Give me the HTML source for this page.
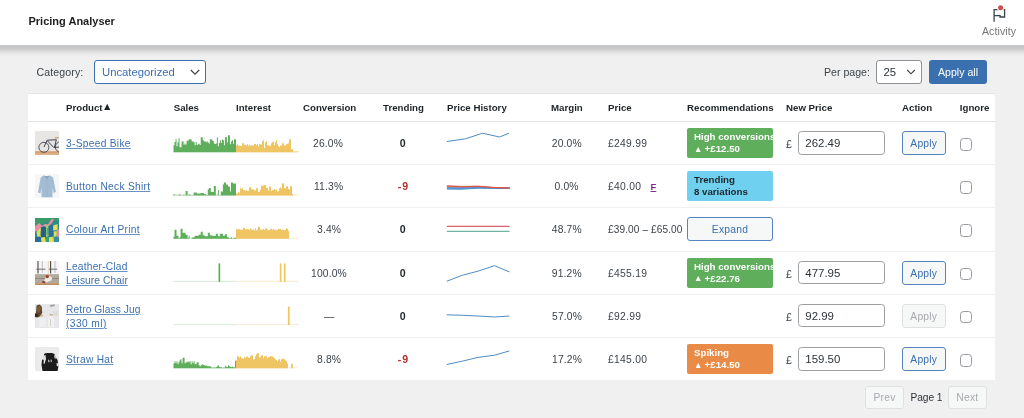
<!DOCTYPE html>
<html><head><meta charset="utf-8"><title>Pricing Analyser</title>
<style>
*{box-sizing:border-box;margin:0;padding:0}
html,body{width:1024px;height:418px;overflow:hidden;background:#f0f0f1}
body{position:relative;font-family:"Liberation Sans",Arial,sans-serif;font-size:10.5px;color:#3c434a;line-height:14px}
.a{position:absolute;white-space:nowrap}
.hdr{left:0;top:0;width:1024px;height:45px;background:#fff}
.shd{left:0;top:44.600px;width:1024px;height:12px;background:linear-gradient(to bottom,#e0e0e1 0,#c4c5c7 5%,#c5c6c8 20%,#d0d0d2 38%,#dededf 56%,#e8e8e9 72%,#eeeeef 88%,#f0f0f1 100%)}
.title{left:28.500px;top:14px;font-weight:bold;font-size:11px;color:#1e1e1e}
.act{left:982px;top:24px;font-size:10.500px;letter-spacing:.1px;color:#757575}
.tbl{left:28px;top:93px;width:967px;height:287.2px;background:#fff;border-top:1px solid #e4e4e8}
.sep{left:28px;width:967px;height:1px;background:#f0f0f1}
.th{top:100.500px;font-weight:bold;color:#1d2327;font-size:9.700px}
.lnk{color:#3a6fb0;text-decoration:underline;text-decoration-color:#6a92c5;text-decoration-thickness:.9px;text-underline-offset:.5px;font-size:10.2px;letter-spacing:.3px;line-height:13.8px}
.num{color:#3c434a;font-size:10.3px;letter-spacing:.15px}
.pr{letter-spacing:.3px}
.tr{font-weight:bold;color:#1d2327;font-size:10.6px}
.neg{color:#b32d2e}
.rec{left:687px;width:86.200px;height:30px;border-radius:2px;color:#fff;font-weight:bold;font-size:9.700px;line-height:12px;padding:3px 0 0 7px;overflow:hidden}
.g{background:#5fae5b}
.b{background:#6fd0ef;color:#1d2327}
.o{background:#e98b46}
.inp{left:798px;width:86.500px;height:23.300px;border:1px solid #9c9fa4;border-radius:3.500px;background:#fff;font-size:11.450px;line-height:22.300px;padding-left:6.300px;color:#2c3338}
.cur{left:786px;font-size:10.6px;color:#3c434a}
.btn{left:901.700px;width:44.200px;height:24px;border:1px solid #5584c0;border-radius:3px;background:#f6f7f7;color:#3a6fb0;font-size:10.300px;letter-spacing:.25px;line-height:23.400px;text-align:center}
.btn.dis{border-color:#e0e0e2;color:#a7aaad}
.pg{top:386.300px;height:23px;border:1px solid #e0e0e2;border-radius:3px;background:#f6f7f7;color:#a7aaad;font-size:10.300px;letter-spacing:.25px;line-height:22px;text-align:center}
.cb{left:959.800px;width:12.500px;height:12.500px;border:1px solid #96999e;border-radius:3.500px;background:#fff}
.thumb{left:34.500px;width:24px;height:24px;overflow:hidden}
.thumb svg{display:block;filter:blur(.35px)}
.tri{font-size:8.500px;line-height:0;vertical-align:0.5px;margin-right:-0.5px;margin-left:0}
.flag{left:650.500px;font-weight:bold;font-size:9.500px;color:#8a2b9a;text-decoration:underline}
</style></head><body>
<div class="a hdr"></div><div class="a shd"></div>
<div class="a title">Pricing Analyser</div>
<svg class="a" style="left:984px;top:0px" width="32" height="26" viewBox="984 0 32 26"><path d="M994.1 21.700V9.600h10.500v7.400h-4.600v-1.400h-5.900" fill="none" stroke="#3c434a" stroke-width="1.300"/><circle cx="1000.600" cy="7.800" r="3.500" fill="#fff"/><circle cx="1000.600" cy="7.800" r="2.500" fill="#d24d4d"/></svg>
<div class="a act">Activity</div>

<div class="a" style="left:36.500px;top:65px;font-size:10.600px;letter-spacing:.1px">Category:</div>
<div class="a" style="left:94px;top:60px;width:112px;height:24px;border:1.5px solid #3a6fb0;border-radius:3px;background:#fff;color:#3a6fb0;font-size:11.3px;line-height:23px;padding-left:7px">Uncategorized</div>
<svg class="a" style="left:189.600px;top:68.400px" width="10" height="8" viewBox="0 0 10 8"><path d="M0.800 2l4.200 4.200L9.200 2" fill="none" stroke="#3c434a" stroke-width="1.150"/></svg>
<div class="a" style="left:824px;top:65px;font-size:10.6px">Per page:</div>
<div class="a" style="left:876.400px;top:60px;width:45.600px;height:24px;border:1px solid #8c8f94;border-radius:3px;background:#fff;color:#2c3338;font-size:11.300px;line-height:22px;padding-left:6.200px">25</div>
<svg class="a" style="left:906.200px;top:68.400px" width="10" height="8" viewBox="0 0 10 8"><path d="M1.200 2l3.800 3.800L8.800 2" fill="none" stroke="#3c434a" stroke-width="1.150"/></svg>
<div class="a" style="left:929px;top:60px;width:58px;height:24px;border-radius:3px;background:#3a6fb0;color:#fff;font-size:10.6px;line-height:24px;text-align:center">Apply all</div>

<div class="a tbl"></div>

<div class="a th" style="left:66px">Product<span style="font-size:10.500px;line-height:0;margin-left:-.5px;vertical-align:.5px">▲</span></div>
<div class="a th" style="left:173.700px">Sales</div>
<div class="a th" style="left:236px">Interest</div>
<div class="a th" style="left:303px">Conversion</div>
<div class="a th" style="left:383px">Trending</div>
<div class="a th" style="left:447px">Price History</div>
<div class="a th" style="left:551px">Margin</div>
<div class="a th" style="left:608px">Price</div>
<div class="a th" style="left:687px">Recommendations</div>
<div class="a th" style="left:786px">New Price</div>
<div class="a th" style="left:902px">Action</div>
<div class="a th" style="left:959.800px">Ignore</div>

<svg class="a" style="left:0;top:0" width="1024" height="418" viewBox="0 0 1024 418">
<rect x="173.5" y="151.3" width="62.5" height="1" fill="#d8ecd7"/>
<rect x="236" y="151.3" width="62.8" height="1" fill="#fbecd0"/>
<path d="M173.50 152.3v-7.0h1.01v7.0zM174.51 152.3v-10.4h1.01v10.4zM175.52 152.3v-13.0h1.01v13.0zM176.52 152.3v-6.0h1.01v6.0zM177.53 152.3v-10.0h1.01v10.0zM178.54 152.3v-14.0h1.01v14.0zM179.55 152.3v-5.0h1.01v5.0zM180.56 152.3v-5.0h1.01v5.0zM181.56 152.3v-10.8h1.01v10.8zM182.57 152.3v-11.0h1.01v11.0zM183.58 152.3v-7.6h1.01v7.6zM184.59 152.3v-8.8h1.01v8.8zM185.60 152.3v-7.5h1.01v7.5zM186.60 152.3v-11.9h1.01v11.9zM187.61 152.3v-11.2h1.01v11.2zM188.62 152.3v-13.0h1.01v13.0zM189.63 152.3v-13.0h1.01v13.0zM190.64 152.3v-12.8h1.01v12.8zM191.65 152.3v-10.9h1.01v10.9zM192.65 152.3v-10.7h1.01v10.7zM193.66 152.3v-10.0h1.01v10.0zM194.67 152.3v-7.1h1.01v7.1zM195.68 152.3v-10.2h1.01v10.2zM196.69 152.3v-7.4h1.01v7.4zM197.69 152.3v-8.1h1.01v8.1zM198.70 152.3v-8.5h1.01v8.5zM199.71 152.3v-7.2h1.01v7.2zM200.72 152.3v-15.0h1.01v15.0zM201.73 152.3v-15.0h1.01v15.0zM202.73 152.3v-12.1h1.01v12.1zM203.74 152.3v-11.0h1.01v11.0zM204.75 152.3v-10.8h1.01v10.8zM205.76 152.3v-10.0h1.01v10.0zM206.77 152.3v-11.0h1.01v11.0zM207.77 152.3v-9.7h1.01v9.7zM208.78 152.3v-8.7h1.01v8.7zM209.79 152.3v-13.0h1.01v13.0zM210.80 152.3v-13.0h1.01v13.0zM211.81 152.3v-12.0h1.01v12.0zM212.81 152.3v-11.2h1.01v11.2zM213.82 152.3v-8.9h1.01v8.9zM214.83 152.3v-8.4h1.01v8.4zM215.84 152.3v-8.7h1.01v8.7zM216.85 152.3v-15.0h1.01v15.0zM217.85 152.3v-6.0h1.01v6.0zM218.86 152.3v-9.4h1.01v9.4zM219.87 152.3v-12.0h1.01v12.0zM220.88 152.3v-9.3h1.01v9.3zM221.89 152.3v-12.7h1.01v12.7zM222.90 152.3v-12.1h1.01v12.1zM223.90 152.3v-7.0h1.01v7.0zM224.91 152.3v-15.0h1.01v15.0zM225.92 152.3v-15.0h1.01v15.0zM226.93 152.3v-9.8h1.01v9.8zM227.94 152.3v-17.0h1.01v17.0zM228.94 152.3v-17.0h1.01v17.0zM229.95 152.3v-8.0h1.01v8.0zM230.96 152.3v-10.8h1.01v10.8zM231.97 152.3v-12.0h1.01v12.0zM232.98 152.3v-8.6h1.01v8.6zM233.98 152.3v-13.0h1.01v13.0zM234.99 152.3v-13.0h1.01v13.0z" fill="#5fae5b"/>
<path d="M236.00 152.3v-7.0h1.00v7.0zM237.00 152.3v-8.0h1.00v8.0zM238.00 152.3v-6.6h1.00v6.6zM239.00 152.3v-6.9h1.00v6.9zM240.00 152.3v-6.5h1.00v6.5zM241.00 152.3v-6.4h1.00v6.4zM242.00 152.3v-9.0h1.00v9.0zM243.00 152.3v-9.0h1.00v9.0zM244.00 152.3v-7.6h1.00v7.6zM245.00 152.3v-7.4h1.00v7.4zM246.00 152.3v-6.8h1.00v6.8zM247.00 152.3v-8.1h1.00v8.1zM248.00 152.3v-6.6h1.00v6.6zM249.00 152.3v-7.8h1.00v7.8zM250.00 152.3v-6.6h1.00v6.6zM251.00 152.3v-7.3h1.00v7.3zM252.00 152.3v-6.8h1.00v6.8zM253.00 152.3v-6.9h1.00v6.9zM254.00 152.3v-8.6h1.00v8.6zM255.00 152.3v-8.2h1.00v8.2zM256.00 152.3v-7.0h1.00v7.0zM257.00 152.3v-8.4h1.00v8.4zM258.00 152.3v-6.0h1.00v6.0zM259.00 152.3v-8.0h1.00v8.0zM260.00 152.3v-8.0h1.00v8.0zM261.00 152.3v-7.8h1.00v7.8zM262.00 152.3v-11.0h1.00v11.0zM263.00 152.3v-12.0h1.00v12.0zM264.00 152.3v-4.0h1.00v4.0zM265.00 152.3v-10.0h1.00v10.0zM266.00 152.3v-11.0h1.00v11.0zM267.00 152.3v-7.1h1.00v7.1zM268.00 152.3v-7.0h1.00v7.0zM269.00 152.3v-6.5h1.00v6.5zM270.00 152.3v-6.5h1.00v6.5zM271.00 152.3v-9.0h1.00v9.0zM272.00 152.3v-10.0h1.00v10.0zM273.00 152.3v-11.0h1.00v11.0zM274.00 152.3v-7.2h1.00v7.2zM275.00 152.3v-10.0h1.00v10.0zM276.00 152.3v-12.0h1.00v12.0zM277.00 152.3v-8.0h1.00v8.0zM278.00 152.3v-6.0h1.00v6.0zM279.00 152.3v-5.0h1.00v5.0zM280.00 152.3v-6.7h1.00v6.7zM281.00 152.3v-6.7h1.00v6.7zM282.00 152.3v-9.0h1.00v9.0zM283.00 152.3v-9.0h1.00v9.0zM284.00 152.3v-6.9h1.00v6.9zM285.00 152.3v-6.8h1.00v6.8zM286.00 152.3v-8.1h1.00v8.1zM287.00 152.3v-8.6h1.00v8.6zM288.00 152.3v-9.0h1.00v9.0zM289.00 152.3v-13.0h1.00v13.0zM290.00 152.3v-13.0h1.00v13.0zM291.00 152.3v-3.0h1.00v3.0zM292.00 152.3v-3.0h1.00v3.0z" fill="#efc463"/>
<rect x="293" y="151.3" width="5.8" height="1" fill="#f5d99a"/>
<rect x="173.5" y="194.5" width="62.5" height="1" fill="#d8ecd7"/>
<rect x="236" y="194.5" width="62.8" height="1" fill="#fbecd0"/>
<path d="M173.50 195.5v-1.5h1.01v1.5zM174.51 195.5v-0.3h1.01v0.3zM175.52 195.5v-0.3h1.01v0.3zM176.52 195.5v-0.3h1.01v0.3zM177.53 195.5v-0.3h1.01v0.3zM178.54 195.5v-1.0h1.01v1.0zM179.55 195.5v-1.0h1.01v1.0zM180.56 195.5v-0.3h1.01v0.3zM181.56 195.5v-0.3h1.01v0.3zM182.57 195.5v-0.3h1.01v0.3zM183.58 195.5v-1.0h1.01v1.0zM185.60 195.5v-4.5h1.01v4.5zM186.60 195.5v-4.5h1.01v4.5zM187.61 195.5v-0.3h1.01v0.3zM188.62 195.5v-1.0h1.01v1.0zM189.63 195.5v-1.0h1.01v1.0zM190.64 195.5v-0.3h1.01v0.3zM191.65 195.5v-0.3h1.01v0.3zM192.65 195.5v-0.3h1.01v0.3zM193.66 195.5v-3.0h1.01v3.0zM194.67 195.5v-3.0h1.01v3.0zM195.68 195.5v-3.0h1.01v3.0zM196.69 195.5v-2.0h1.01v2.0zM197.69 195.5v-2.0h1.01v2.0zM198.70 195.5v-2.0h1.01v2.0zM199.71 195.5v-2.0h1.01v2.0zM200.72 195.5v-2.6h1.01v2.6zM201.73 195.5v-2.6h1.01v2.6zM202.73 195.5v-2.6h1.01v2.6zM203.74 195.5v-1.5h1.01v1.5zM204.75 195.5v-1.5h1.01v1.5zM205.76 195.5v-0.5h1.01v0.5zM206.77 195.5v-0.5h1.01v0.5zM207.77 195.5v-6.0h1.01v6.0zM208.78 195.5v-7.5h1.01v7.5zM209.79 195.5v-7.5h1.01v7.5zM210.80 195.5v-3.5h1.01v3.5zM211.81 195.5v-3.5h1.01v3.5zM212.81 195.5v-3.5h1.01v3.5zM213.82 195.5v-9.5h1.01v9.5zM214.83 195.5v-9.5h1.01v9.5zM215.84 195.5v-0.3h1.01v0.3zM216.85 195.5v-0.3h1.01v0.3zM217.85 195.5v-5.5h1.01v5.5zM218.86 195.5v-0.3h1.01v0.3zM219.87 195.5v-0.3h1.01v0.3zM220.88 195.5v-4.0h1.01v4.0zM221.89 195.5v-4.0h1.01v4.0zM222.90 195.5v-11.0h1.01v11.0zM223.90 195.5v-13.0h1.01v13.0zM224.91 195.5v-13.0h1.01v13.0zM225.92 195.5v-11.0h1.01v11.0zM226.93 195.5v-11.0h1.01v11.0zM227.94 195.5v-9.0h1.01v9.0zM228.94 195.5v-9.0h1.01v9.0zM229.95 195.5v-4.0h1.01v4.0zM230.96 195.5v-13.0h1.01v13.0zM231.97 195.5v-13.0h1.01v13.0zM232.98 195.5v-12.0h1.01v12.0zM233.98 195.5v-12.0h1.01v12.0zM234.99 195.5v-12.0h1.01v12.0z" fill="#5fae5b"/>
<path d="M236.00 195.5v-2.1h1.00v2.1zM237.00 195.5v-2.0h1.00v2.0zM238.00 195.5v-3.5h1.00v3.5zM239.00 195.5v-2.7h1.00v2.7zM240.00 195.5v-7.2h1.00v7.2zM241.00 195.5v-6.8h1.00v6.8zM242.00 195.5v-7.3h1.00v7.3zM243.00 195.5v-5.6h1.00v5.6zM244.00 195.5v-5.3h1.00v5.3zM245.00 195.5v-4.7h1.00v4.7zM246.00 195.5v-5.2h1.00v5.2zM247.00 195.5v-4.6h1.00v4.6zM248.00 195.5v-4.7h1.00v4.7zM249.00 195.5v-8.1h1.00v8.1zM250.00 195.5v-8.4h1.00v8.4zM251.00 195.5v-6.6h1.00v6.6zM252.00 195.5v-6.3h1.00v6.3zM253.00 195.5v-5.9h1.00v5.9zM254.00 195.5v-5.2h1.00v5.2zM255.00 195.5v-5.0h1.00v5.0zM256.00 195.5v-7.3h1.00v7.3zM257.00 195.5v-7.4h1.00v7.4zM258.00 195.5v-3.6h1.00v3.6zM259.00 195.5v-3.7h1.00v3.7zM260.00 195.5v-5.9h1.00v5.9zM261.00 195.5v-10.1h1.00v10.1zM262.00 195.5v-9.6h1.00v9.6zM263.00 195.5v-9.9h1.00v9.9zM264.00 195.5v-10.4h1.00v10.4zM265.00 195.5v-10.5h1.00v10.5zM266.00 195.5v-7.7h1.00v7.7zM267.00 195.5v-7.7h1.00v7.7zM268.00 195.5v-5.1h1.00v5.1zM269.00 195.5v-9.1h1.00v9.1zM270.00 195.5v-9.0h1.00v9.0zM271.00 195.5v-4.5h1.00v4.5zM272.00 195.5v-5.4h1.00v5.4zM273.00 195.5v-5.2h1.00v5.2zM274.00 195.5v-6.5h1.00v6.5zM275.00 195.5v-5.5h1.00v5.5zM276.00 195.5v-6.1h1.00v6.1zM277.00 195.5v-4.0h1.00v4.0zM278.00 195.5v-4.2h1.00v4.2zM279.00 195.5v-7.3h1.00v7.3zM280.00 195.5v-8.0h1.00v8.0zM281.00 195.5v-7.1h1.00v7.1zM282.00 195.5v-12.0h1.00v12.0zM283.00 195.5v-12.2h1.00v12.2zM284.00 195.5v-7.4h1.00v7.4zM285.00 195.5v-7.2h1.00v7.2zM286.00 195.5v-9.2h1.00v9.2zM287.00 195.5v-9.3h1.00v9.3zM288.00 195.5v-6.4h1.00v6.4zM289.00 195.5v-5.9h1.00v5.9zM290.00 195.5v-9.2h1.00v9.2zM291.00 195.5v-9.4h1.00v9.4zM292.00 195.5v-1.4h1.00v1.4z" fill="#efc463"/>
<rect x="173.5" y="237.7" width="62.5" height="1" fill="#d8ecd7"/>
<rect x="236" y="237.7" width="62.8" height="1" fill="#fbecd0"/>
<path d="M173.50 238.7v-2.0h1.01v2.0zM174.51 238.7v-9.0h1.01v9.0zM175.52 238.7v-9.0h1.01v9.0zM176.52 238.7v-3.0h1.01v3.0zM177.53 238.7v-3.0h1.01v3.0zM178.54 238.7v-0.5h1.01v0.5zM179.55 238.7v-1.5h1.01v1.5zM180.56 238.7v-10.0h1.01v10.0zM181.56 238.7v-10.0h1.01v10.0zM182.57 238.7v-6.0h1.01v6.0zM183.58 238.7v-6.0h1.01v6.0zM184.59 238.7v-6.0h1.01v6.0zM185.60 238.7v-4.0h1.01v4.0zM186.60 238.7v-4.0h1.01v4.0zM187.61 238.7v-0.5h1.01v0.5zM188.62 238.7v-3.0h1.01v3.0zM191.65 238.7v-1.0h1.01v1.0zM192.65 238.7v-1.5h1.01v1.5zM193.66 238.7v-1.5h1.01v1.5zM194.67 238.7v-3.0h1.01v3.0zM195.68 238.7v-3.0h1.01v3.0zM196.69 238.7v-3.0h1.01v3.0zM197.69 238.7v-3.0h1.01v3.0zM198.70 238.7v-4.0h1.01v4.0zM199.71 238.7v-4.0h1.01v4.0zM200.72 238.7v-7.0h1.01v7.0zM201.73 238.7v-7.0h1.01v7.0zM202.73 238.7v-3.5h1.01v3.5zM203.74 238.7v-3.5h1.01v3.5zM204.75 238.7v-2.5h1.01v2.5zM205.76 238.7v-2.5h1.01v2.5zM206.77 238.7v-2.5h1.01v2.5zM207.77 238.7v-6.0h1.01v6.0zM208.78 238.7v-6.0h1.01v6.0zM209.79 238.7v-3.5h1.01v3.5zM210.80 238.7v-3.5h1.01v3.5zM211.81 238.7v-3.0h1.01v3.0zM212.81 238.7v-3.0h1.01v3.0zM213.82 238.7v-3.0h1.01v3.0zM214.83 238.7v-3.0h1.01v3.0zM215.84 238.7v-5.0h1.01v5.0zM216.85 238.7v-5.0h1.01v5.0zM217.85 238.7v-2.5h1.01v2.5zM218.86 238.7v-2.5h1.01v2.5zM219.87 238.7v-5.0h1.01v5.0zM220.88 238.7v-5.0h1.01v5.0zM221.89 238.7v-5.0h1.01v5.0zM222.90 238.7v-3.0h1.01v3.0zM223.90 238.7v-3.0h1.01v3.0zM224.91 238.7v-4.5h1.01v4.5zM225.92 238.7v-4.5h1.01v4.5zM226.93 238.7v-1.5h1.01v1.5zM227.94 238.7v-1.5h1.01v1.5zM228.94 238.7v-0.5h1.01v0.5zM229.95 238.7v-0.5h1.01v0.5zM230.96 238.7v-1.5h1.01v1.5zM231.97 238.7v-0.3h1.01v0.3zM232.98 238.7v-0.3h1.01v0.3zM233.98 238.7v-1.0h1.01v1.0zM234.99 238.7v-1.0h1.01v1.0z" fill="#5fae5b"/>
<path d="M236.00 238.7v-9.5h1.00v9.5zM237.00 238.7v-9.5h1.00v9.5zM238.00 238.7v-9.6h1.00v9.6zM239.00 238.7v-9.1h1.00v9.1zM240.00 238.7v-9.2h1.00v9.2zM241.00 238.7v-8.8h1.00v8.8zM242.00 238.7v-9.1h1.00v9.1zM243.00 238.7v-11.0h1.00v11.0zM244.00 238.7v-11.0h1.00v11.0zM245.00 238.7v-9.2h1.00v9.2zM246.00 238.7v-9.8h1.00v9.8zM247.00 238.7v-9.6h1.00v9.6zM248.00 238.7v-9.4h1.00v9.4zM249.00 238.7v-8.8h1.00v8.8zM250.00 238.7v-10.5h1.00v10.5zM251.00 238.7v-9.1h1.00v9.1zM252.00 238.7v-8.9h1.00v8.9zM253.00 238.7v-9.5h1.00v9.5zM254.00 238.7v-8.3h1.00v8.3zM255.00 238.7v-10.5h1.00v10.5zM256.00 238.7v-8.2h1.00v8.2zM257.00 238.7v-9.2h1.00v9.2zM258.00 238.7v-12.0h1.00v12.0zM259.00 238.7v-12.0h1.00v12.0zM260.00 238.7v-9.3h1.00v9.3zM261.00 238.7v-9.0h1.00v9.0zM262.00 238.7v-9.2h1.00v9.2zM263.00 238.7v-9.7h1.00v9.7zM264.00 238.7v-8.6h1.00v8.6zM265.00 238.7v-10.5h1.00v10.5zM266.00 238.7v-10.5h1.00v10.5zM267.00 238.7v-9.3h1.00v9.3zM268.00 238.7v-8.5h1.00v8.5zM269.00 238.7v-8.5h1.00v8.5zM270.00 238.7v-9.6h1.00v9.6zM271.00 238.7v-10.0h1.00v10.0zM272.00 238.7v-8.9h1.00v8.9zM273.00 238.7v-9.6h1.00v9.6zM274.00 238.7v-8.7h1.00v8.7zM275.00 238.7v-9.3h1.00v9.3zM276.00 238.7v-8.5h1.00v8.5zM277.00 238.7v-8.9h1.00v8.9zM278.00 238.7v-10.0h1.00v10.0zM279.00 238.7v-9.7h1.00v9.7zM280.00 238.7v-9.6h1.00v9.6zM281.00 238.7v-8.8h1.00v8.8zM282.00 238.7v-9.1h1.00v9.1zM283.00 238.7v-8.7h1.00v8.7zM284.00 238.7v-8.4h1.00v8.4zM285.00 238.7v-9.0h1.00v9.0zM286.00 238.7v-10.5h1.00v10.5zM287.00 238.7v-10.0h1.00v10.0zM288.00 238.7v-8.0h1.00v8.0z" fill="#efc463"/>
<rect x="173.5" y="280.9" width="62.5" height="1" fill="#d8ecd7"/>
<rect x="236" y="280.9" width="62.8" height="1" fill="#fbecd0"/>
<rect x="218.5" y="263.4" width="1.7" height="18.5" fill="#5fae5b"/>
<rect x="279.8" y="263.4" width="1.6" height="18.5" fill="#efc463"/>
<rect x="283.9" y="263.4" width="1.6" height="18.5" fill="#efc463"/>
<rect x="173.5" y="324.1" width="62.5" height="1" fill="#d8ecd7"/>
<rect x="236" y="324.1" width="62.8" height="1" fill="#fbecd0"/>
<rect x="287.9" y="306.6" width="1.7" height="18.5" fill="#efc463"/>
<rect x="173.5" y="367.3" width="62.5" height="1" fill="#d8ecd7"/>
<rect x="236" y="367.3" width="62.8" height="1" fill="#fbecd0"/>
<path d="M173.50 368.3v-5.0h1.01v5.0zM174.51 368.3v-7.0h1.01v7.0zM175.52 368.3v-5.0h1.01v5.0zM176.52 368.3v-7.0h1.01v7.0zM177.53 368.3v-4.0h1.01v4.0zM178.54 368.3v-6.0h1.01v6.0zM179.55 368.3v-8.0h1.01v8.0zM180.56 368.3v-9.0h1.01v9.0zM181.56 368.3v-5.0h1.01v5.0zM182.57 368.3v-10.5h1.01v10.5zM183.58 368.3v-10.5h1.01v10.5zM184.59 368.3v-5.0h1.01v5.0zM185.60 368.3v-6.0h1.01v6.0zM186.60 368.3v-6.0h1.01v6.0zM187.61 368.3v-7.0h1.01v7.0zM188.62 368.3v-6.0h1.01v6.0zM189.63 368.3v-7.0h1.01v7.0zM190.64 368.3v-4.0h1.01v4.0zM191.65 368.3v-7.0h1.01v7.0zM192.65 368.3v-5.0h1.01v5.0zM193.66 368.3v-7.0h1.01v7.0zM194.67 368.3v-4.0h1.01v4.0zM195.68 368.3v-4.0h1.01v4.0zM196.69 368.3v-6.0h1.01v6.0zM197.69 368.3v-6.0h1.01v6.0zM198.70 368.3v-3.0h1.01v3.0zM199.71 368.3v-2.0h1.01v2.0zM200.72 368.3v-3.0h1.01v3.0zM201.73 368.3v-4.0h1.01v4.0zM202.73 368.3v-3.5h1.01v3.5zM203.74 368.3v-3.0h1.01v3.0zM204.75 368.3v-2.5h1.01v2.5zM205.76 368.3v-3.0h1.01v3.0zM206.77 368.3v-2.0h1.01v2.0zM207.77 368.3v-2.0h1.01v2.0zM208.78 368.3v-2.0h1.01v2.0zM209.79 368.3v-2.0h1.01v2.0zM210.80 368.3v-1.0h1.01v1.0zM211.81 368.3v-0.5h1.01v0.5zM212.81 368.3v-0.5h1.01v0.5zM213.82 368.3v-1.0h1.01v1.0zM214.83 368.3v-0.5h1.01v0.5zM215.84 368.3v-1.0h1.01v1.0zM216.85 368.3v-2.0h1.01v2.0zM217.85 368.3v-3.0h1.01v3.0zM218.86 368.3v-1.5h1.01v1.5zM219.87 368.3v-1.0h1.01v1.0zM220.88 368.3v-1.0h1.01v1.0zM221.89 368.3v-0.5h1.01v0.5zM222.90 368.3v-0.5h1.01v0.5zM223.90 368.3v-0.5h1.01v0.5zM224.91 368.3v-2.5h1.01v2.5zM225.92 368.3v-1.5h1.01v1.5zM226.93 368.3v-1.0h1.01v1.0zM227.94 368.3v-3.0h1.01v3.0zM228.94 368.3v-2.0h1.01v2.0zM229.95 368.3v-1.5h1.01v1.5zM230.96 368.3v-1.0h1.01v1.0zM231.97 368.3v-1.5h1.01v1.5zM232.98 368.3v-1.0h1.01v1.0zM233.98 368.3v-0.7h1.01v0.7zM234.99 368.3v-7.5h1.01v7.5z" fill="#5fae5b"/>
<path d="M236.00 368.3v-8.0h1.00v8.0zM237.00 368.3v-12.0h1.00v12.0zM238.00 368.3v-12.0h1.00v12.0zM239.00 368.3v-10.9h1.00v10.9zM240.00 368.3v-12.0h1.00v12.0zM241.00 368.3v-10.0h1.00v10.0zM242.00 368.3v-10.0h1.00v10.0zM243.00 368.3v-9.5h1.00v9.5zM244.00 368.3v-11.0h1.00v11.0zM245.00 368.3v-10.7h1.00v10.7zM246.00 368.3v-11.5h1.00v11.5zM247.00 368.3v-11.7h1.00v11.7zM248.00 368.3v-10.9h1.00v10.9zM249.00 368.3v-10.4h1.00v10.4zM250.00 368.3v-12.0h1.00v12.0zM251.00 368.3v-13.0h1.00v13.0zM252.00 368.3v-13.0h1.00v13.0zM253.00 368.3v-9.0h1.00v9.0zM254.00 368.3v-9.0h1.00v9.0zM255.00 368.3v-12.0h1.00v12.0zM256.00 368.3v-14.0h1.00v14.0zM257.00 368.3v-15.0h1.00v15.0zM258.00 368.3v-15.0h1.00v15.0zM259.00 368.3v-11.0h1.00v11.0zM260.00 368.3v-11.0h1.00v11.0zM261.00 368.3v-13.0h1.00v13.0zM262.00 368.3v-13.0h1.00v13.0zM263.00 368.3v-10.0h1.00v10.0zM264.00 368.3v-12.0h1.00v12.0zM265.00 368.3v-12.0h1.00v12.0zM266.00 368.3v-12.0h1.00v12.0zM267.00 368.3v-10.0h1.00v10.0zM268.00 368.3v-11.0h1.00v11.0zM269.00 368.3v-11.5h1.00v11.5zM270.00 368.3v-12.0h1.00v12.0zM271.00 368.3v-12.0h1.00v12.0zM272.00 368.3v-12.0h1.00v12.0zM273.00 368.3v-11.0h1.00v11.0zM274.00 368.3v-10.0h1.00v10.0zM275.00 368.3v-9.0h1.00v9.0zM276.00 368.3v-8.0h1.00v8.0zM277.00 368.3v-7.0h1.00v7.0zM278.00 368.3v-9.0h1.00v9.0zM279.00 368.3v-9.0h1.00v9.0zM280.00 368.3v-6.5h1.00v6.5zM281.00 368.3v-9.0h1.00v9.0zM282.00 368.3v-9.5h1.00v9.5zM283.00 368.3v-9.5h1.00v9.5zM284.00 368.3v-9.0h1.00v9.0zM285.00 368.3v-8.0h1.00v8.0zM286.00 368.3v-7.0h1.00v7.0zM287.00 368.3v-5.0h1.00v5.0z" fill="#efc463"/>
<path d="M291.00 368.3v-4.5h0.90v4.5zM291.90 368.3v-4.5h0.90v4.5z" fill="#efc463"/>
<polyline points="446.8,141.5 465.5,138.8 482.5,133.2 499.5,137.0 509.0,133.2" fill="none" stroke="#4f8cc5" stroke-width="1.0" stroke-linejoin="round"/>
<polyline points="446.9,189.1 462.0,189.2 478.0,188.2 494.0,188.4 509.6,188.0" fill="none" stroke="#3f8fd0" stroke-width="1.0" stroke-linejoin="round"/>
<polyline points="446.9,188.4 462.0,188.6 478.0,187.7 494.0,188.2 509.6,188.0" fill="none" stroke="#4a9ad8" stroke-width="1.0" stroke-linejoin="round"/>
<polyline points="446.9,187.7 462.0,188.0 478.0,187.2 494.0,188.0 509.6,188.0" fill="none" stroke="#5b8fc9" stroke-width="1.0" stroke-linejoin="round"/>
<polyline points="446.9,187.0 462.0,187.4 478.0,186.8 494.0,187.8 509.6,188.0" fill="none" stroke="#7a7fb5" stroke-width="0.9" stroke-linejoin="round"/>
<polyline points="446.9,186.2 462.0,186.8 478.0,186.4 494.0,187.6 509.6,188.0" fill="none" stroke="#d9573f" stroke-width="1.0" stroke-linejoin="round"/>
<polyline points="446.9,185.7 462.0,186.4 478.0,186.1 494.0,187.4 509.6,188.0" fill="none" stroke="#e0523a" stroke-width="0.8" stroke-linejoin="round"/>
<polyline points="446.9,226.4 509.6,226.4" fill="none" stroke="#d9616f" stroke-width="1.1" stroke-linejoin="round"/>
<polyline points="446.9,231.4 509.6,231.4" fill="none" stroke="#6fb5a6" stroke-width="1.1" stroke-linejoin="round"/>
<polyline points="446.8,281.2 462.2,275.3 478.6,271.0 494.6,265.7 509.4,271.9" fill="none" stroke="#4f8cc5" stroke-width="1.0" stroke-linejoin="round"/>
<polyline points="446.8,314.8 462.5,315.3 478.0,316.0 494.6,317.0 509.4,316.0" fill="none" stroke="#4f8cc5" stroke-width="1.0" stroke-linejoin="round"/>
<polyline points="446.8,364.5 462.5,361.1 478.0,357.4 494.6,355.2 509.4,350.9" fill="none" stroke="#4f8cc5" stroke-width="1.0" stroke-linejoin="round"/>
</svg>
<div class="a sep" style="top:120.9px;background:#e2e2e4"></div>
<div class="a thumb" style="top:131.2px"><svg viewBox="0 0 24 24" width="24" height="24"><rect width="24" height="24" fill="#e8e6e5"/><rect y="20.200" width="24" height="3.800" fill="#d6a273"/><rect y="22.500" width="24" height="1.500" fill="#dfb48c"/><g fill="none" stroke="#3d424c" stroke-width="0.9"><circle cx="8.900" cy="16.300" r="5"/><circle cx="25.5" cy="16" r="5.2"/><path d="M12.2 9.2L21 8.8M12.2 9.6l6.6 6.9M21.4 8.5l-2 8M12.2 9.2L9 16M18.8 16.5L25 16" stroke-width="1"/></g><path d="M19.8 6.3h4v1h-4z" fill="#b98a5e"/><path d="M10.6 7.4h3v1h-3z" fill="#d8d8da"/></svg></div>
<div class="a lnk" style="left:66px;top:137.0px">3-Speed Bike</div>
<div class="a num" style="left:313px;top:137.0px">26.0%</div>
<div class="a tr" style="left:399.8px;top:136.0px">0</div>
<div class="a num" style="left:551.8px;top:137.0px">20.0%</div>
<div class="a num pr" style="left:608px;top:137.0px">£249.99</div>
<div class="a rec g" style="top:128.2px">High conversions<br><span class="tri">▲</span> +£12.50</div>
<div class="a cur" style="top:137.0px">£</div>
<div class="a inp" style="top:131.3px">262.49</div>
<div class="a btn" style="top:131.0px">Apply</div>
<div class="a cb" style="top:138.0px"></div>
<div class="a sep" style="top:164.1px"></div>
<div class="a thumb" style="top:174.4px"><svg viewBox="0 0 24 24" width="24" height="24"><rect width="24" height="24" fill="#f6f6f7"/><path d="M8.6 1.6L5.7 3.4 3 18.6l2.5 1 .9-6 .2 9.6h10.8l.2-9.6.9 5.4 2.4-.9L18.1 3.4l-3-1.8-3.200 1.300z" fill="#a3bbd3"/><path d="M8.600 1.600l3.300 2.800 3.200-2.800-3.200.7z" fill="#869fbc"/><path d="M11.900 4v19" stroke="#93b2cd" stroke-width=".5"/></svg></div>
<div class="a lnk" style="left:66px;top:180.2px">Button Neck Shirt</div>
<div class="a num" style="left:314px;top:180.2px">11.3%</div>
<div class="a tr neg" style="left:397.8px;top:179.2px;letter-spacing:1px">-9</div>
<div class="a num" style="left:554.5px;top:180.2px">0.0%</div>
<div class="a num pr" style="left:608px;top:180.2px">£40.00</div>
<div class="a flag" style="top:180.2px">F</div>
<div class="a rec b" style="top:171.4px">Trending<br>8 variations</div>
<div class="a cb" style="top:181.2px"></div>
<div class="a sep" style="top:207.3px"></div>
<div class="a thumb" style="top:217.6px"><svg viewBox="0 0 24 24" width="24" height="24"><rect width="24" height="24" fill="#2e8c86"/><path d="M0 0h24v3l-6-2-4 4-4-1-4 3-6 2z" fill="#3a9a6c"/><path d="M0 8.500l4.200-3.500 3.100 3 3-2.500 2.200 1.500L17 .8l2 .7-2.500 4-2.500 2.500-2.500 1-2.800-.8-3 1L3 13l-3 .5z" fill="#ee8ca6"/><path d="M1.500 14l4-4.500 1.500 3-.5 6-4 1.500z" fill="#dcdf5c"/><path d="M6 9.500l3-1 2 1v11l-4 .5-1.500-4z" fill="#245f94"/><path d="M11 7.500l2.500-1.500.5 12-3 1z" fill="#9fcf5e"/><path d="M11.800 10h1.500v7h-1.500z" fill="#4fb06b"/><path d="M13.500 8l4.500-1.500v12l-4.500.5z" fill="#2a6ea3"/><path d="M18.200 7.500l4.400-1.500v6l-4.400.5z" fill="#dfe05e"/><path d="M18.800 13.500l3-.5v5.500l-3 .5z" fill="#d9dd60"/><path d="M0 19l5.500-.5.500 5.500H0z" fill="#2a6a9c"/><path d="M6 19.500l4-.5 1 5H6.500z" fill="#e3e15c"/><path d="M10.500 19.500l3.500-.5v5h-3z" fill="#3d9f78"/><path d="M14 19.200l4.400-.4.600 5.200h-5z" fill="#dfe05e"/><path d="M19 19l5-1v6h-4.500z" fill="#3a8f9a"/><path d="M22 12l2-.5v7l-2 .5z" fill="#ea8aa8"/></svg></div>
<div class="a lnk" style="left:66px;top:223.4px">Colour Art Print</div>
<div class="a num" style="left:317px;top:223.4px">3.4%</div>
<div class="a tr" style="left:399.8px;top:222.4px">0</div>
<div class="a num" style="left:551.8px;top:223.4px">48.7%</div>
<div class="a num" style="left:608px;top:223.4px;font-size:10.1px;letter-spacing:.1px">£39.00 – £65.00</div>
<div class="a btn" style="left:687px;width:86px;top:217.4px">Expand</div>
<div class="a cb" style="top:224.4px"></div>
<div class="a sep" style="top:250.5px"></div>
<div class="a thumb" style="top:260.8px"><svg viewBox="0 0 24 24" width="24" height="24"><rect width="24" height="24" fill="#f7f5f3"/><g stroke="#4a4a50" fill="none"><path d="M3 0v12.500M15.600 0v12.500" stroke-width="1.100"/><path d="M1.500 8.200h9M14 8.200h8" stroke-width=".8"/><path d="M7.300 0v12M20 0v12" stroke-width=".5" stroke="#8a8a90"/></g><path d="M12.800 0h1.200v13h-1.200z" fill="#ecd9c4"/><rect y="13" width="24" height="9.500" fill="#b0a89c"/><rect y="13" width="24" height="1.200" fill="#bdb6aa"/><rect y="17" width="24" height="1" fill="#8f887c"/><rect y="22.300" width="24" height="1.700" fill="#bd8a58"/><path d="M10.800 16l3.500-1 3 1.500-1 3-5 2-2.500-1z" fill="#eceae8"/><circle cx="12.300" cy="15.600" r="1.700" fill="#a23f1f"/><path d="M7.500 20l3 .5-.5 1.800-3-.5z" fill="#8d3a22"/></svg></div>
<div class="a lnk" style="left:66px;top:259.6px;line-height:14.2px"><span style="letter-spacing:0.23px">Leather-Clad</span><br><span style="letter-spacing:0.1px">Leisure Chair</span></div>
<div class="a num" style="left:311px;top:266.6px">100.0%</div>
<div class="a tr" style="left:399.8px;top:265.6px">0</div>
<div class="a num" style="left:551.8px;top:266.6px">91.2%</div>
<div class="a num pr" style="left:608px;top:266.6px">£455.19</div>
<div class="a rec g" style="top:257.8px">High conversions<br><span class="tri">▲</span> +£22.76</div>
<div class="a cur" style="top:266.6px">£</div>
<div class="a inp" style="top:260.9px">477.95</div>
<div class="a btn" style="top:260.6px">Apply</div>
<div class="a cb" style="top:267.6px"></div>
<div class="a sep" style="top:293.7px"></div>
<div class="a thumb" style="top:304.0px"><svg viewBox="0 0 24 24" width="24" height="24"><rect width="24" height="24" fill="#e7e7ea"/><path d="M1.500 1.500l3-1 2.200 2 .5 6-1.500 3.500-3 1.500-1.700-3z" fill="#5b4430"/><path d="M2.500 2l2.500 0 1 4-2 3-2-2z" fill="#7e5a33"/><path d="M0 9l3 1.500-.5 3-2.500-.5z" fill="#2f2a28"/><path d="M5 11l2.500-.5 .5 1.500-2.500 .8z" fill="#d7a968"/><path d="M15 1l5-.5-.5 1.500-4 1z" fill="#9a9a9c"/><rect x="18" y="7" width="5" height="5" fill="#dededd"/><path d="M14 11.500h4v2l1 1.500v8h-6v-8l1-1.500z" fill="#f1f1f3"/><rect x="14.500" y="10.200" width="3.300" height="1.300" fill="#c7a77c"/><path d="M4 14h7v9H4z" fill="#efeff1"/><path d="M15.500 15v7" stroke="#c9c5b8" stroke-width=".8"/></svg></div>
<div class="a lnk" style="left:66px;top:302.8px;line-height:14.2px"><span style="letter-spacing:0.1px">Retro Glass Jug</span><br><span style="letter-spacing:0.43px">(330 ml)</span></div>
<div class="a num" style="left:324px;top:309.8px">—</div>
<div class="a tr" style="left:399.8px;top:308.8px">0</div>
<div class="a num" style="left:552px;top:309.8px">57.0%</div>
<div class="a num pr" style="left:608px;top:309.8px">£92.99</div>
<div class="a cur" style="top:309.8px">£</div>
<div class="a inp" style="top:304.1px">92.99</div>
<div class="a btn dis" style="top:303.8px">Apply</div>
<div class="a cb" style="top:310.8px"></div>
<div class="a sep" style="top:336.9px"></div>
<div class="a thumb" style="top:347.2px"><svg viewBox="0 0 24 24" width="24" height="24"><rect width="24" height="24" fill="#ebebeb"/><path d="M9 7l2-1h6l2.500 1 1 3 2 3 1 6-1 5H7.500l-1-6 .5-5.500 1.800.5z" fill="#1b1b1c"/><path d="M9 8.500l1.500-.5.500 4-1.500 5-1-.5z" fill="#e4e4e4"/><path d="M19 8l1.500 1 .5 3-1.500-1z" fill="#dcdcdc"/><path d="M21.500 16l2 .5.300 3-2-.5z" fill="#e9e9e9"/><path d="M13 13l1-.5.500 2.500-1 .5zM15.500 12.500l1 0 .3 2.500-1 .3z" fill="#cfcfcf"/><path d="M11 4.500l.5 2" stroke="#bbb" stroke-width=".4"/></svg></div>
<div class="a lnk" style="left:66px;top:353.0px">Straw Hat</div>
<div class="a num" style="left:317px;top:353.0px">8.8%</div>
<div class="a tr neg" style="left:397.8px;top:352.0px;letter-spacing:1px">-9</div>
<div class="a num" style="left:552px;top:353.0px">17.2%</div>
<div class="a num pr" style="left:608px;top:353.0px">£145.00</div>
<div class="a rec o" style="top:344.2px">Spiking<br><span class="tri">▲</span> +£14.50</div>
<div class="a cur" style="top:353.0px">£</div>
<div class="a inp" style="top:347.3px">159.50</div>
<div class="a btn" style="top:347.0px">Apply</div>
<div class="a cb" style="top:354.0px"></div>
<!-- pagination -->
<div class="a pg" style="left:865.400px;width:38.200px">Prev</div>
<div class="a" style="left:910.500px;top:391px;font-size:10.200px;letter-spacing:-.05px;color:#2c3338">Page 1</div>
<div class="a pg" style="left:948px;width:38.800px">Next</div>
</body></html>
